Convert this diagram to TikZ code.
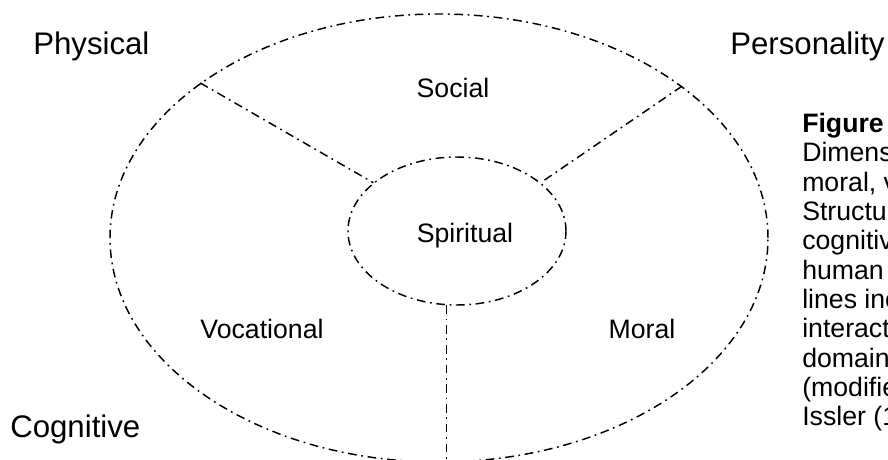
\documentclass[tikz,border=0pt]{standalone}
\usepackage{fontspec}
\setmainfont{Liberation Sans}
\usetikzlibrary{shapes.geometric}
\tikzset{
% Dash-dot outline and the two text sizes
ring/.style={draw,line width=1.1pt,dash pattern=on 6.5pt off 3.5pt on 1.3pt off 3.5pt},
domain label/.style={font=\fontsize{20}{22}\selectfont,inner sep=0},
corner label/.style={font=\fontsize{23.4}{26}\selectfont,inner sep=0}
}
\begin{document}
\begin{tikzpicture}[x=0.75pt,y=-0.75pt]
\useasboundingbox (0,0) rectangle (888,460);
\clip (0,0) rectangle (888,460);
% The two rings
\node(outer)[ring,ellipse,inner sep=0,minimum width=493.5pt,minimum height=336pt] at (439,238){};
\node(inner)[ring,ellipse,inner sep=0,minimum width=163.5pt,minimum height=111pt] at (457,231){};
% Dividers between the domains
\draw[ring](outer.147)--(inner.150);
\draw[ring](outer.32)--(inner.30);
\draw[ring](inner.-98)--(inner.-98 |- outer.south);
% Corner labels
\node(physical)[corner label,anchor=base west] at (33,55){Physical};
\node(personality)[corner label,anchor=base west] at (730,55){Personality};
\node(cognitive)[corner label,anchor=base west] at (10,437){Cognitive};
% Domain labels
\node(social)[domain label,anchor=base] at (453,98){Social};
\node(spiritual)[domain label,anchor=base] at (465,242){Spiritual};
\node(vocational)[domain label,anchor=base] at (262,338){Vocational};
\node(moral)[domain label,anchor=base] at (642,338){Moral};
% Caption, cut at the right edge
\node(caption)[domain label,align=left,anchor=north west] at (802,113){\textbf{Figure}\\Dimens\\moral, v\\Structur\\cognitiv\\human\\lines inc\\interact\\domain\\(modifie\\Issler (1};
\end{tikzpicture}
\end{document}
